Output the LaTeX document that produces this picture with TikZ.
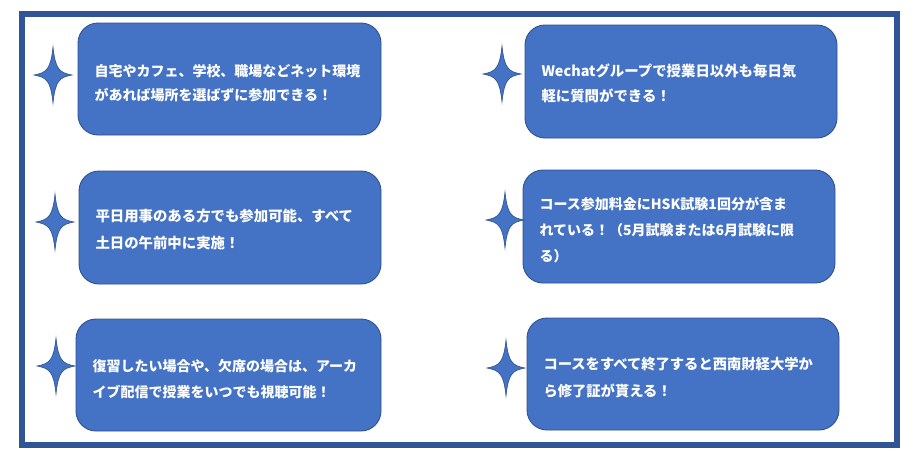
\documentclass[tikz,border=0pt]{standalone}
\usepackage{fontspec}
\setmainfont{Noto Sans CJK JP}
\definecolor{boxfill}{HTML}{4472C4}
\definecolor{boxline}{HTML}{2F528F}
\definecolor{framecol}{HTML}{2F5597}
\tikzset{
  box/.style={draw=boxline, line width=0.9pt, fill=boxfill, rounded corners=20pt,
    inner sep=0pt, anchor=center},
  txt/.style={text=white, font=\bfseries\fontsize{14}{26}\selectfont, align=left,
    inner sep=0pt, anchor=center},
  starstyle/.style={draw=boxline, line width=0.6pt, fill=boxfill},
  star4/.pic={\path[starstyle] (0,-28) .. controls (2.4,-6) and (6,-2.4) .. (19,0)
     .. controls (6,2.4) and (2.4,6) .. (0,28)
     .. controls (-2.4,6) and (-6,2.4) .. (-19,0)
     .. controls (-6,-2.4) and (-2.4,-6) .. cycle;}
}
\begin{document}
\begin{tikzpicture}[x=1pt,y=-1pt]
\useasboundingbox (0,0) rectangle (914,461);
\fill[white] (0,0) rectangle (914,461);
\draw[framecol, line width=6pt] (22,13.5) rectangle (897,445);

\node[box, minimum width=303pt, minimum height=112pt] (b1) at (229.5,79) {};
\node[box, minimum width=302pt, minimum height=113pt] (b2) at (230,227.5) {};
\node[box, minimum width=305pt, minimum height=112pt] (b5) at (228.5,375) {};
\node[box, minimum width=312pt, minimum height=113pt] (b3) at (681,81.5) {};
\node[box, minimum width=312pt, minimum height=113pt] (b4) at (679,226.5) {};
\node[box, minimum width=312pt, minimum height=112pt] (b6) at (683,374) {};

\node[txt, text width=270pt, font=\bfseries\fontsize{14}{24}\selectfont] (t1) at ([yshift=-4pt]b1.center)
  {自宅やカフェ、学校、職場などネット環境\\があれば場所を選ばずに参加できる！};
\node[txt, text width=269pt, font=\bfseries\fontsize{14.4}{27}\selectfont] (t2) at ([yshift=-1.5pt]b2.center)
  {平日用事のある方でも参加可能、すべて\\土日の午前中に実施！};
\node[txt, text width=272pt] (t5) at ([yshift=-4pt]b5.center)
  {復習したい場合や、欠席の場合は、アーカ\\イブ配信で授業をいつでも視聴可能！};
\node[txt, text width=279pt, font=\bfseries\fontsize{14.4}{25}\selectfont] (t3) at ([yshift=-1.5pt]b3.center)
  {Wechatグループで授業日以外も毎日気\\軽に質問ができる！};
\node[txt, text width=279pt] (t4) at ([yshift=-4pt]b4.center)
  {コース参加料金にHSK試験1回分が含ま\\れている！（5月試験または6月試験に限\\る）};
\node[txt, text width=279pt, font=\bfseries\fontsize{14.3}{27}\selectfont] (t6) at ([yshift=-4pt]b6.center)
  {コースをすべて終了すると西南財経大学か\\ら修了証が貰える！};

\pic at (53,75) {star4};
\pic at (55,222) {star4};
\pic at (56,366) {star4};
\pic at (502,74) {star4};
\pic at (505,220) {star4};
\pic at (506,368) {star4};
\end{tikzpicture}
\end{document}
